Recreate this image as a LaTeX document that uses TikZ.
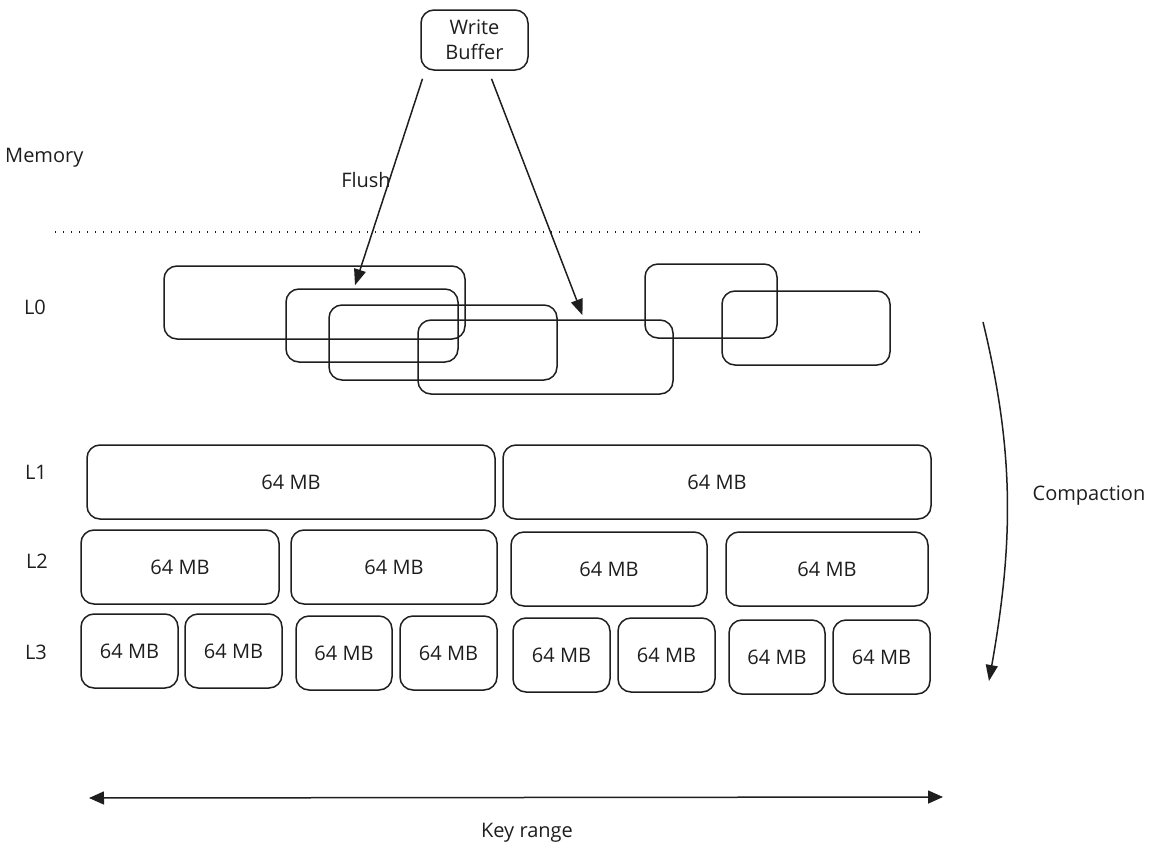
\documentclass[tikz,border=0pt]{standalone}
\usepackage{fontspec}
\setmainfont{Open Sans}
\usetikzlibrary{arrows.meta,calc}
\definecolor{ink}{HTML}{1E1E1E}
\tikzset{
  box/.style={draw=ink, line width=1.5pt, rounded corners=13pt, inner sep=0pt, text=ink, font=\fontsize{20}{25}\selectfont, align=center},
  lbl/.style={text=ink, font=\fontsize{20}{25}\selectfont, inner sep=0pt},
  arr/.style={draw=ink, line width=1.5pt, -{Triangle[length=16pt,width=12pt]}},
}
\newcommand{\bx}[6]{\node[box, minimum width=#4pt-#2pt, minimum height=#5pt-#3pt] (#1) at ({(#2+#4)/2},{(#3+#5)/2}) {#6};}
\begin{document}
\begin{tikzpicture}[x=1pt,y=-1pt]
\useasboundingbox (0,0) rectangle (1152,857);
% write buffer
\bx{wb}{421}{10}{528}{70}{Write\\Buffer}
% labels
\node[lbl, anchor=west] (mem) at (5,158) {Memory};
\node[lbl] (l0) at (35,307) {L0};
\node[lbl] (l1) at (36,472) {L1};
\node[lbl] (l2) at (37,561) {L2};
\node[lbl] (l3) at (36,652) {L3};
\node[lbl] (flush) at (366,180) {Flush};
\node[lbl] (comp) at (1089,496) {Compaction};
\node[lbl] (key) at (527,833) {Key range};
% dotted separator
\coordinate (d1) at (55,232);
\coordinate (d2) at (925,232);
\draw[ink, line width=1.3pt, dash pattern=on 1.4pt off 6.6pt] (d1) -- (d2);
% L0
\bx{a}{164}{266}{465}{339}{}
\bx{b}{286}{289}{458}{362}{}
\bx{c}{329}{305}{557}{380}{}
\bx{d}{418}{320}{673}{394}{}
\bx{e}{645}{264}{777}{338}{}
\bx{f}{722}{291}{890}{365}{}
% L1
\bx{m1}{87}{445}{495}{519}{64 MB}
\bx{m2}{503}{445}{931}{519}{64 MB}
% L2
\bx{n1}{81}{530}{279}{604}{64 MB}
\bx{n2}{291}{530}{497}{604}{64 MB}
\bx{n3}{511}{532}{707}{606}{64 MB}
\bx{n4}{726}{532}{928}{606}{64 MB}
% L3
\bx{p1}{81}{614}{178}{688}{64 MB}
\bx{p2}{185}{614}{282}{688}{64 MB}
\bx{p3}{296}{616}{392}{690}{64 MB}
\bx{p4}{400}{616}{497}{690}{64 MB}
\bx{p5}{513}{618}{610}{692}{64 MB}
\bx{p6}{618}{618}{715}{692}{64 MB}
\bx{p7}{729}{620}{825}{694}{64 MB}
\bx{p8}{833}{620}{930}{694}{64 MB}
% flush arrows
\draw[arr] ([xshift=-52pt,yshift=-8pt]wb.south) -- ([xshift=-17pt,yshift=3pt]b.north);
\draw[arr] ([xshift=17pt,yshift=-8pt]wb.south) -- ([xshift=37pt,yshift=4pt]d.north);
% compaction arrow
\coordinate (c1) at (983,322);
\coordinate (c2) at (989,681);
\draw[arr] (c1) .. controls (1014,450) and (1014,540) .. (c2);
% key range
\coordinate (k1) at (89,798);
\coordinate (k2) at (943,797);
\draw[arr, {Triangle[length=15pt,width=13pt]}-{Triangle[length=15pt,width=13pt]}] (k1) -- (k2);
\end{tikzpicture}
\end{document}
